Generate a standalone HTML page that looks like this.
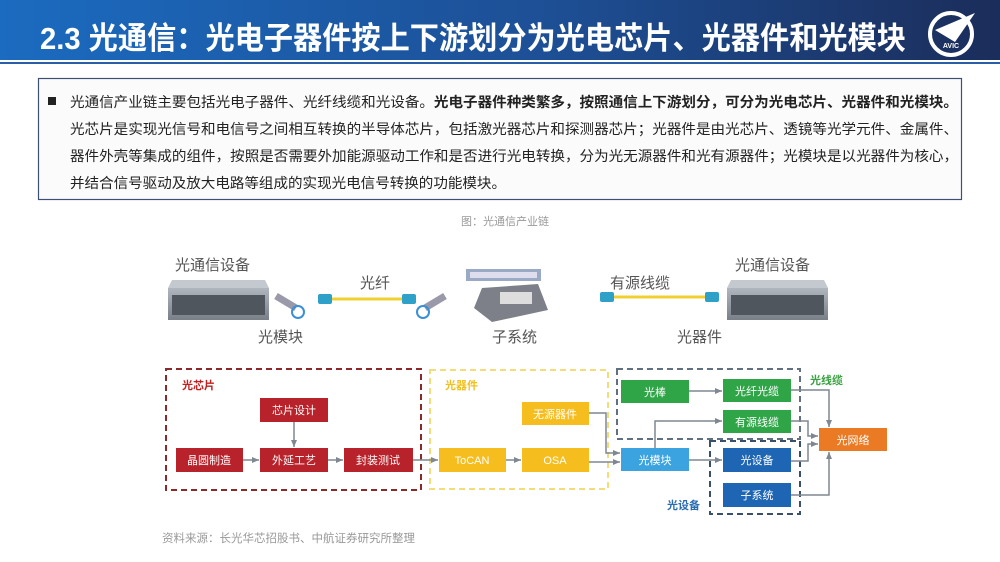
<!DOCTYPE html>
<html><head><meta charset="utf-8"><style>
html,body{margin:0;padding:0;background:#fff;}
body{width:1000px;height:562px;position:relative;overflow:hidden;font-family:"Liberation Sans","Noto Sans CJK SC",sans-serif;}
svg{position:absolute;left:0;top:0;}
</style></head><body>
<svg width="1000" height="562" viewBox="0 0 1000 562" font-family="'Liberation Sans','Noto Sans CJK SC',sans-serif">
<defs>
<linearGradient id="hg" x1="0" x2="1" y1="0" y2="0">
<stop offset="0" stop-color="#1b6bc0"/><stop offset="0.55" stop-color="#1d4f95"/><stop offset="1" stop-color="#1b2d5a"/>
</linearGradient>
<marker id="ar" markerWidth="8" markerHeight="8" refX="7" refY="4" orient="auto" markerUnits="userSpaceOnUse">
<path d="M0,1 L7,4 L0,7 Z" fill="#7f8790"/></marker>
<linearGradient id="dev" x1="0" x2="0" y1="0" y2="1"><stop offset="0" stop-color="#b0b6be"/><stop offset="1" stop-color="#7a8088"/></linearGradient>
</defs>
<rect x="0" y="0" width="1000" height="60" fill="url(#hg)"/>
<rect x="0" y="62" width="1000" height="2" fill="#2a5ea6"/>
<text x="40" y="49" font-size="31" font-weight="bold" fill="#fff" textLength="866" lengthAdjust="spacingAndGlyphs">2.3 光通信：光电子器件按上下游划分为光电芯片、光器件和光模块</text>
<circle cx="951" cy="34" r="21" fill="none" stroke="#fff" stroke-width="4"/>
<path d="M935,30 L975,13 L955,42 Z" fill="#fff"/>
<text x="951" y="48" font-size="7" font-weight="bold" fill="#fff" text-anchor="middle">AVIC</text>
<rect x="38.5" y="78.5" width="923" height="121" fill="#fbfbfc" stroke="#3d4f73" stroke-width="1.2"/>
<rect x="48" y="97" width="8" height="8" fill="#222"/>
<text font-size="14" fill="#222">
<tspan x="70" y="107" textLength="888" lengthAdjust="spacingAndGlyphs">光通信产业链主要包括光电子器件、光纤线缆和光设备。<tspan font-weight="bold">光电子器件种类繁多，按照通信上下游划分，可分为光电芯片、光器件和光模块。</tspan></tspan>
</text>
<text x="70" y="134" font-size="14" fill="#222" textLength="888" lengthAdjust="spacingAndGlyphs">光芯片是实现光信号和电信号之间相互转换的半导体芯片，包括激光器芯片和探测器芯片；光器件是由光芯片、透镜等光学元件、金属件、</text>
<text x="70" y="161" font-size="14" fill="#222" textLength="888" lengthAdjust="spacingAndGlyphs">器件外壳等集成的组件，按照是否需要外加能源驱动工作和是否进行光电转换，分为光无源器件和光有源器件；光模块是以光器件为核心，</text>
<text x="70" y="188" font-size="14" fill="#222" textLength="436" lengthAdjust="spacingAndGlyphs">并结合信号驱动及放大电路等组成的实现光电信号转换的功能模块。</text>
<text x="505" y="225" font-size="11" fill="#999" text-anchor="middle">图：光通信产业链</text>

<g font-size="15" fill="#555">
<text x="175" y="270">光通信设备</text>
<text x="735" y="270">光通信设备</text>
<text x="360" y="288">光纤</text>
<text x="610" y="288">有源线缆</text>
<text x="258" y="342">光模块</text>
<text x="492" y="342">子系统</text>
<text x="677" y="342">光器件</text>
</g>
<path d="M172,280 L265,280 L269,288 L168,288 Z" fill="#c4c9cf"/>
<rect x="168" y="288" width="101" height="32" fill="url(#dev)"/>
<rect x="172" y="295" width="93" height="20" fill="#50565e"/>
<path d="M731,280 L824,280 L828,288 L727,288 Z" fill="#c4c9cf"/>
<rect x="727" y="288" width="101" height="32" fill="url(#dev)"/>
<rect x="731" y="295" width="93" height="20" fill="#50565e"/>
<line x1="276" y1="296" x2="296" y2="308" stroke="#99a" stroke-width="7"/>
<circle cx="298" cy="312" r="6" fill="none" stroke="#3a8fd6" stroke-width="2"/>
<line x1="330" y1="299" x2="405" y2="299" stroke="#f0d030" stroke-width="3"/>
<rect x="318" y="294" width="14" height="10" rx="2" fill="#2fa0c8"/>
<rect x="402" y="294" width="14" height="10" rx="2" fill="#2fa0c8"/>
<line x1="445" y1="296" x2="425" y2="308" stroke="#99a" stroke-width="7"/>
<circle cx="423" cy="312" r="6" fill="none" stroke="#3a8fd6" stroke-width="2"/>
<line x1="612" y1="297" x2="705" y2="297" stroke="#f0d030" stroke-width="3"/>
<rect x="600" y="292" width="14" height="10" rx="2" fill="#2fa0c8"/>
<rect x="705" y="292" width="14" height="10" rx="2" fill="#2fa0c8"/>
<rect x="466" y="269" width="75" height="12" fill="#9aaac4"/>
<rect x="470" y="272" width="67" height="6" fill="#dde"/>
<path d="M482,288 L538,284 L548,310 L492,322 L474,308 Z" fill="#7d8088"/>
<rect x="500" y="292" width="32" height="12" fill="#ddd"/>

<g fill="none" stroke-width="2" stroke-dasharray="6,4">
<rect x="166" y="369" width="255" height="121" stroke="#8a2a2a"/>
<rect x="430" y="370" width="178" height="119" stroke="#f3dc7a"/>
<rect x="617" y="369" width="183" height="70" stroke="#607080"/>
<rect x="710" y="441" width="90" height="73" stroke="#38506a"/>
</g>
<g font-size="11" font-weight="bold">
<text x="182" y="389" fill="#c02020">光芯片</text>
<text x="445" y="389" fill="#f0c020">光器件</text>
<text x="810" y="384" fill="#3aa040">光线缆</text>
<text x="667" y="509" fill="#2a6cb0">光设备</text>
</g>
<g stroke="#7f8790" stroke-width="1.5" fill="none" marker-end="url(#ar)">
<line x1="294" y1="422" x2="294" y2="447"/>
<line x1="243" y1="460" x2="259" y2="460"/>
<line x1="328" y1="460" x2="343" y2="460"/>
<line x1="413" y1="460" x2="438" y2="460"/>
<line x1="506" y1="460" x2="521" y2="460"/>
<path d="M589,413 H606 V453 H620"/>
<line x1="589" y1="462" x2="620" y2="462"/>
<line x1="689" y1="391" x2="722" y2="391"/>
<path d="M655,448 V421 H722"/>
<line x1="689" y1="460" x2="722" y2="460"/>
<path d="M791,390 H829 V427"/>
<path d="M791,421 H808 V436 H818"/>
<path d="M791,461 H808 V444 H818"/>
<path d="M791,495 H829 V452"/>
</g>
<g font-size="11" fill="#fff" text-anchor="middle">
<rect x="260" y="398" width="68" height="24" fill="#b8222a"/><text x="294" y="414">芯片设计</text>
<rect x="176" y="448" width="67" height="24" fill="#b8222a"/><text x="209" y="464">晶圆制造</text>
<rect x="260" y="448" width="68" height="24" fill="#b8222a"/><text x="294" y="464">外延工艺</text>
<rect x="344" y="448" width="69" height="24" fill="#b8222a"/><text x="378" y="464">封装测试</text>
<rect x="522" y="402" width="67" height="23" fill="#f5be1e"/><text x="555" y="418">无源器件</text>
<rect x="439" y="448" width="67" height="24" fill="#f5be1e"/><text x="472" y="464">ToCAN</text>
<rect x="522" y="448" width="67" height="24" fill="#f5be1e"/><text x="555" y="464">OSA</text>
<rect x="621" y="380" width="68" height="23" fill="#2fa548"/><text x="655" y="396">光棒</text>
<rect x="723" y="379" width="68" height="23" fill="#2fa548"/><text x="757" y="395">光纤光缆</text>
<rect x="723" y="410" width="68" height="23" fill="#2fa548"/><text x="757" y="426">有源线缆</text>
<rect x="621" y="448" width="68" height="23" fill="#3ba4e0"/><text x="655" y="464">光模块</text>
<rect x="723" y="448" width="68" height="24" fill="#1e66b4"/><text x="757" y="464">光设备</text>
<rect x="723" y="483" width="68" height="24" fill="#1e66b4"/><text x="757" y="499">子系统</text>
<rect x="819" y="428" width="68" height="23" fill="#ea7a24"/><text x="853" y="444">光网络</text>
</g>
<text x="162" y="542" font-size="11.5" fill="#999">资料来源：长光华芯招股书、中航证券研究所整理</text>
</svg>
</body></html>
